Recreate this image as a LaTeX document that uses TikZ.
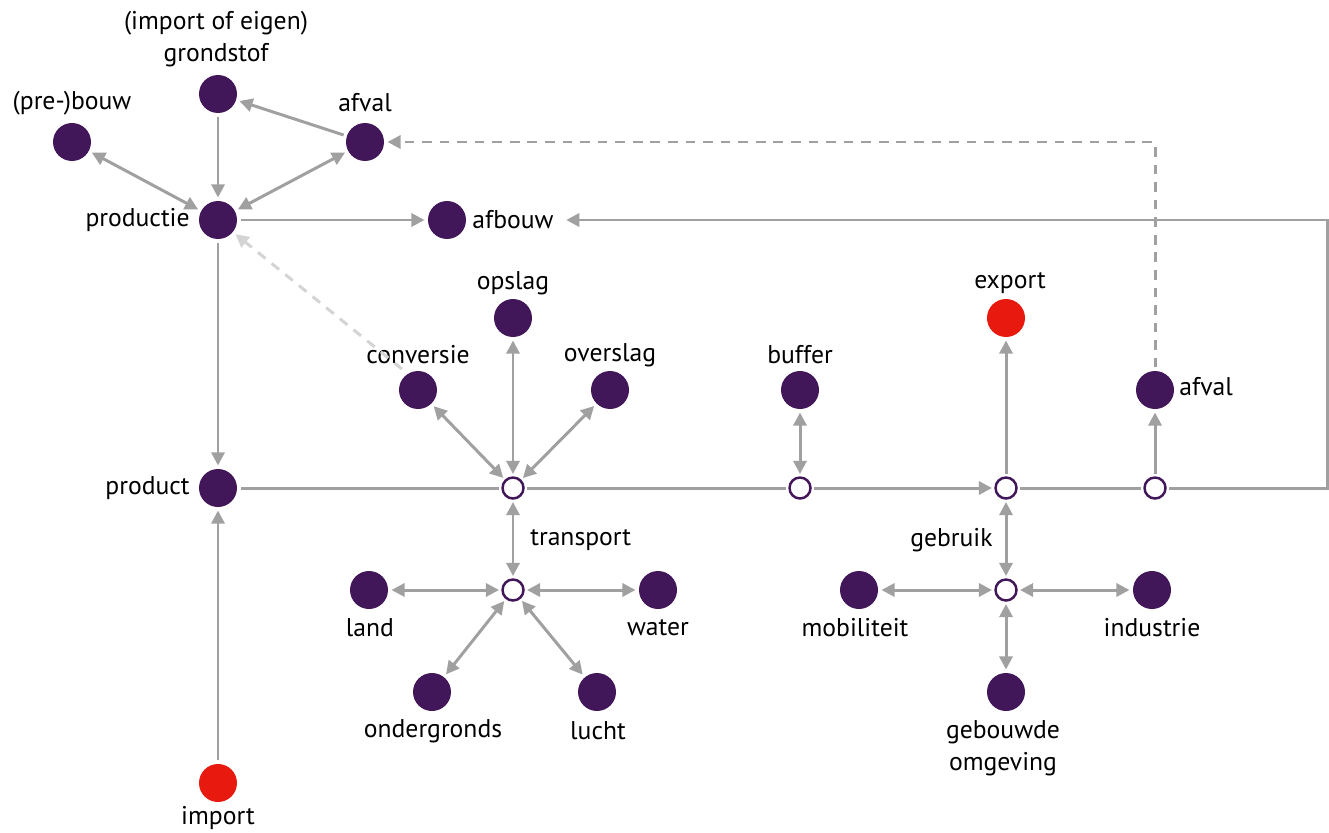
\documentclass[tikz,border=0pt]{standalone}
\usepackage{fontspec}
\setmainfont{PT Sans}
\usetikzlibrary{arrows.meta}
\definecolor{purp}{HTML}{41175A}
\definecolor{redc}{HTML}{E8190F}
\definecolor{gry}{HTML}{A0A0A0}
\definecolor{lgry}{HTML}{D4D4D4}
\tikzset{
  dot/.style={circle, fill=purp, minimum size=0.76cm, inner sep=0pt, outer sep=2pt},
  reddot/.style={dot, fill=redc},
  hub/.style={circle, draw=purp, line width=1.4pt, fill=white, minimum size=0.42cm, inner sep=0pt, outer sep=2pt},
  lbl/.style={inner sep=0pt, font=\fontsize{14.6}{18.5}\selectfont, text=black, align=center},
  con/.style={draw=gry, line width=1.7pt},
  tip/.tip={Triangle[length=7.5pt,width=7.5pt]},
  arr/.style={con, -tip},
  darr/.style={con, tip-tip},
  dsh/.style={arr, dash pattern=on 5.5pt off 4.5pt},
  ldsh/.style={draw=lgry, line width=1.7pt, -tip, dash pattern=on 5.5pt off 4.5pt},
}
\begin{document}
\begin{tikzpicture}[x=0.02cm, y=-0.02cm]
\useasboundingbox (0,0) rectangle (1329,832);
% nodes
\node[dot] (grondstof) at (218,94) {};
\node[dot] (prebouw) at (72,142) {};
\node[dot] (afvalT) at (365,142) {};
\node[dot] (productie) at (218,220) {};
\node[dot] (afbouw) at (447,220) {};
\node[dot] (product) at (218,488) {};
\node[reddot] (import) at (218,783) {};
\node[dot] (conversie) at (418,390) {};
\node[dot] (opslag) at (513,318) {};
\node[dot] (overslag) at (610,390) {};
\node[hub] (h1) at (513,488) {};
\node[dot] (buffer) at (800,390) {};
\node[hub] (h2) at (800,488) {};
\node[reddot] (export) at (1006,318) {};
\node[hub] (h3) at (1006,488) {};
\node[dot] (afvalR) at (1155,390) {};
\node[hub] (h4) at (1155,488) {};
\node[hub] (th) at (513,590) {};
\node[dot] (land) at (369,590) {};
\node[dot] (water) at (658,590) {};
\node[dot] (onder) at (432,692) {};
\node[dot] (lucht) at (597,692) {};
\node[hub] (gh) at (1006,590) {};
\node[dot] (mobi) at (859,590) {};
\node[dot] (indu) at (1152,590) {};
\node[dot] (gebo) at (1006,692) {};
\coordinate (rc1) at (1327,488);
\coordinate (rc2) at (1327,220);
\coordinate (dc1) at (1155,142);
\coordinate (cd) at (402,369);
% labels
\node[lbl] (lgrond) at (216,39) {(import of eigen)\\grondstof};
\node[lbl] (lprebouw) at (72,103) {(pre-)bouw};
\node[lbl] (lafvalT) at (365,103) {afval};
\node[lbl, anchor=east] (lproductie) at (190,220) {productie};
\node[lbl, anchor=west] (lafbouw) at (472,220) {afbouw};
\node[lbl, anchor=east] (lproduct) at (190,488) {product};
\node[lbl] (limport) at (218,818) {import};
\node[lbl] (lopslag) at (513,283) {opslag};
\node[lbl] (lconversie) at (418,355) {conversie};
\node[lbl] (loverslag) at (610,355) {overslag};
\node[lbl] (lbuffer) at (800,355) {buffer};
\node[lbl] (lexport) at (1010,283) {export};
\node[lbl, anchor=west] (lafvalR) at (1179,387) {afval};
\node[lbl, anchor=west] (ltransport) at (530,540) {transport};
\node[lbl, anchor=east] (lgebruik) at (993,540) {gebruik};
\node[lbl] (lland) at (370,628) {land};
\node[lbl] (lwater) at (658,628) {water};
\node[lbl] (londer) at (433,731) {ondergronds};
\node[lbl] (llucht) at (598,731) {lucht};
\node[lbl] (lmobi) at (855,628) {mobiliteit};
\node[lbl] (lindu) at (1152,628) {industrie};
\node[lbl] (lgebo) at (1003,748) {gebouwde\\omgeving};
% connectors
\draw[arr] (grondstof) -- (productie);
\draw[arr] (afvalT) -- (grondstof);
\draw[darr] (prebouw) -- (productie);
\draw[darr] (afvalT) -- (productie);
\draw[arr] (productie) -- (afbouw);
\draw[arr] (productie) -- (product);
\draw[ldsh] (cd) -- (productie);
\draw[con] (product) -- (h1);
\draw[arr] (import) -- (product);
\draw[darr] (h1) -- (conversie);
\draw[darr] (h1) -- (opslag);
\draw[darr] (h1) -- (overslag);
\draw[con] (h1) -- (h2);
\draw[arr] (h2) -- (h3);
\draw[con] (h3) -- (h4);
\draw[darr] (h2) -- (buffer);
\draw[arr] (h3) -- (export);
\draw[arr] (h4) -- (afvalR);
\draw[arr, shorten >=7pt] (h4) -- (rc1) -- (rc2) -- (lafbouw.east);
\draw[dsh] (afvalR) -- (dc1) -- (afvalT);
\draw[darr] (h1) -- (th);
\draw[darr] (th) -- (land);
\draw[darr] (th) -- (water);
\draw[darr] (th) -- (onder);
\draw[darr] (th) -- (lucht);
\draw[darr] (h3) -- (gh);
\draw[darr] (gh) -- (mobi);
\draw[darr] (gh) -- (indu);
\draw[darr] (gh) -- (gebo);
\end{tikzpicture}
\end{document}
